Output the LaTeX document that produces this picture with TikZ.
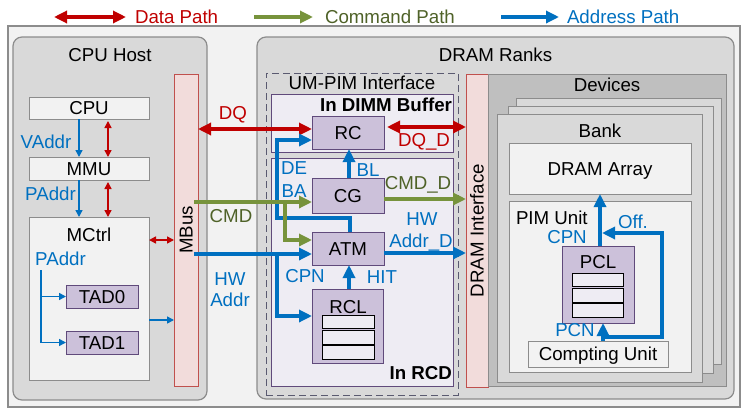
\documentclass[tikz,border=0pt]{standalone}
\usepackage{fontspec}
\setmainfont{Liberation Sans}
\usetikzlibrary{arrows.meta}
\definecolor{cred}{HTML}{C00000}
\definecolor{cgreen}{HTML}{77933C}
\definecolor{colive}{HTML}{4F6228}
\definecolor{cblue}{HTML}{0070C0}
\definecolor{bgfill}{HTML}{F2F2F2}
\definecolor{midgray}{HTML}{D9D9D9}
\definecolor{devgray}{HTML}{BFBFBF}
\definecolor{edgegray}{HTML}{8C8C8C}
\definecolor{pinkfill}{HTML}{F2DCDB}
\definecolor{pinkedge}{HTML}{C0504D}
\definecolor{lavfill}{HTML}{EEECF3}
\definecolor{compfill}{HTML}{CCC1DA}
\definecolor{purpedge}{HTML}{604A7B}
\definecolor{dashedge}{HTML}{5A5A70}
\begin{document}
\begin{tikzpicture}[x=1pt,y=-1pt,
 every node/.style={font=\fontsize{18.7}{21}\selectfont, inner sep=0pt, outer sep=0pt, text height=13.4pt, text depth=0pt},
 plainbox/.style={draw=edgegray, fill=bgfill, line width=1pt},
 grpbox/.style={draw=edgegray, fill=midgray, line width=1.2pt, rounded corners=9pt},
 busbox/.style={draw=pinkedge, fill=pinkfill, line width=1pt},
 bufbox/.style={draw=purpedge, fill=lavfill, line width=1pt},
 compbox/.style={draw=purpedge, fill=compfill, line width=1pt},
 rowbox/.style={draw=black, fill=lavfill, line width=1pt, minimum height=11},
 layerbox/.style={draw=edgegray, fill=midgray, line width=1pt},
 thk/.style={line width=3.2pt, >={Triangle[length=13pt,width=12pt]}},
 thn/.style={line width=1.5pt, >={Triangle[length=7pt,width=7pt]}},
 lblue/.style={text=cblue},
 lred/.style={text=cred},
 lolive/.style={text=colive},
 bt/.style={font=\fontsize{18.7}{21}\selectfont\bfseries},
]
\useasboundingbox (0,0) rectangle (751,418);
\fill[white] (0,0) rectangle (751,418);

% legend
\coordinate (lr1) at (54,17); \coordinate (lr2) at (126,17);
\coordinate (lg1) at (254,17); \coordinate (lg2) at (313,17);
\coordinate (lb1) at (501,17); \coordinate (lb2) at (559,17);
\draw[thk, cred, <->] (lr1) -- (lr2);
\draw[thk, cgreen, ->] (lg1) -- (lg2);
\draw[thk, cblue, ->] (lb1) -- (lb2);
\node[lred, anchor=west] (legd) at (135,17) {Data Path};
\node[lolive, anchor=west] (legc) at (325,17) {Command Path};
\node[lblue, anchor=west] (lega) at (567,17) {Address Path};

% containers
\node[draw=edgegray, fill=bgfill, line width=1.2pt, minimum width=732, minimum height=381] (outer) at (374,216.5) {};
\node[grpbox, minimum width=194, minimum height=363] (host) at (110,218.5) {};
\node[grpbox, minimum width=477, minimum height=362] (ranks) at (495.5,218) {};
\node (hostt) at (110,55) {CPU Host};
\node (rankst) at (495.5,55) {DRAM Ranks};

% CPU host
\node[plainbox, minimum width=120, minimum height=22] (cpu) at (89,108) {CPU};
\node[plainbox, minimum width=120, minimum height=23] (mmu) at (89,168.5) {MMU};
\node[plainbox, minimum width=120, minimum height=163] (mctrl) at (89,298.5) {};
\node (mctrlt) at (89,235) {MCtrl};
\node[compbox, minimum width=72, minimum height=23] (tad0) at (102,296.5) {TAD0};
\node[compbox, minimum width=72, minimum height=23] (tad1) at (102,342.5) {TAD1};
\node[busbox, minimum width=24, minimum height=312] (mbus) at (186,230) {};
\node[rotate=90] (mbust) at (186,230) {MBus};

% UM-PIM interface
\node[draw=dashedge, dash pattern=on 7pt off 4pt, line width=1pt, minimum width=192, minimum height=322] (umpim) at (362,234) {};
\node (umpimt) at (362,83) {UM-PIM Interface};
\node[bufbox, minimum width=182, minimum height=58] (dimm) at (362,123) {};
\node[bufbox, minimum width=182, minimum height=228] (rcd) at (362,272) {};
\node[bt, anchor=east] (dimmt) at (452,105) {In DIMM Buffer};
\node[bt, anchor=east] (rcdt) at (452,372.5) {In RCD};
\node[compbox, minimum width=72, minimum height=33] (rc) at (348,132.5) {RC};
\node[compbox, minimum width=72, minimum height=35] (cg) at (348,195.5) {CG};
\node[compbox, minimum width=72, minimum height=33] (atm) at (348,248.5) {ATM};
\node[compbox, minimum width=71, minimum height=74] (rcl) at (347.5,326) {};
\node (rclt) at (348,307) {RCL};
\node[rowbox, minimum width=52] (rclr1) at (348,322) {};
\node[rowbox, minimum width=52] (rclr2) at (348,337.5) {};
\node[rowbox, minimum width=52] (rclr3) at (348,352.5) {};

% DRAM interface
\node[busbox, minimum width=22, minimum height=313] (dramif) at (477,230.5) {};
\node[rotate=90] (dramift) at (477,230.5) {DRAM Interface};

% devices
\node[draw=edgegray, fill=devgray, line width=1pt, minimum width=238, minimum height=312] (devices) at (607,230) {};
\node (devicest) at (607,85) {Devices};
\node[layerbox, minimum width=205, minimum height=266] (layerA) at (618.5,231) {};
\node[layerbox, minimum width=205, minimum height=267] (layerB) at (610.5,239.5) {};
\node[layerbox, minimum width=205, minimum height=268] (bank) at (599.5,248) {};
\node (bankt) at (600,131) {Bank};
\node[plainbox, minimum width=182, minimum height=51] (array) at (600,168.5) {DRAM Array};
\node[plainbox, minimum width=182, minimum height=171] (pim) at (600,286.5) {};
\node[anchor=west] (pimt) at (516,217.5) {PIM Unit};
\node[compbox, minimum width=72, minimum height=77] (pcl) at (598,284.5) {};
\node (pclt) at (598,262) {PCL};
\node[rowbox, minimum width=51] (pclr1) at (597.5,280) {};
\node[rowbox, minimum width=51] (pclr2) at (597.5,295.5) {};
\node[rowbox, minimum width=51] (pclr3) at (597.5,310.5) {};
\node[plainbox, minimum width=140, minimum height=26] (cu) at (598,354) {Compting Unit};

% host connectors
\coordinate (xa) at (79,0); \coordinate (xd) at (108,0);
\draw[thn, cblue, ->] (xa |- cpu.south) -- (xa |- mmu.north);
\draw[thn, cred, <->, shorten <=2pt] (xd |- cpu.south) -- (xd |- mmu.north);
\draw[thn, cblue, ->] (xa |- mmu.south) -- (xa |- mctrl.north);
\draw[thn, cred, <->, shorten <=2pt] (xd |- mmu.south) -- (xd |- mctrl.north);
\coordinate (ymb1) at (0,240); \coordinate (ymb2) at (0,320);
\draw[thn, cred, <->] (mctrl.east |- ymb1) -- (mbus.west |- ymb1);
\draw[thn, cblue, ->] (mctrl.east |- ymb2) -- (mbus.west |- ymb2);
\coordinate (pb) at (41,270);
\draw[thn, cblue, ->] (pb) |- (tad1.west);
\draw[thn, cblue, ->] (pb |- tad0.west) -- (tad0.west);

% interface connectors
\coordinate (ydq) at (0,129); \coordinate (ydqd) at (0,127);
\draw[thk, cred, <->] (mbus.east |- ydq) -- (rc.west |- ydq);
\draw[thk, cred, <->, shorten <=3pt] (rc.east |- ydqd) -- (dramif.west |- ydqd);
\coordinate (xde) at (277,0); \coordinate (yde) at (0,218); \coordinate (yrc) at (0,140); \coordinate (xatm) at (350,0);
\draw[thk, cblue, ->] (xatm |- atm.north) |- (xde |- yde) |- (rc.west |- yrc);
\coordinate (xbl) at (349,0);
\draw[thk, cblue, ->] (xbl |- cg.north) -- (xbl |- rc.south);
\coordinate (ycmd) at (0,202); \coordinate (xcb) at (285,0); \coordinate (yatmg) at (0,240);
\draw[thk, cgreen, ->, shorten <=-4pt] (mbus.east |- ycmd) -- (cg.west |- ycmd);
\draw[thk, cgreen, ->] (xcb |- ycmd) |- (atm.west |- yatmg);
\coordinate (ycmdd) at (0,199);
\draw[thk, cgreen, ->] (cg.east |- ycmdd) -- (dramif.west |- ycmdd);
\coordinate (yhw) at (0,254); \coordinate (yrcl) at (0,316);
\draw[thk, cblue, ->, shorten <=-4pt] (mbus.east |- yhw) -- (atm.west |- yhw);
\draw[thk, cblue, ->] (xde |- yhw) |- (rcl.west |- yrcl);
\coordinate (yhwd) at (0,253);
\draw[thk, cblue, ->] (atm.east |- yhwd) -- (dramif.west |- yhwd);
\draw[thk, cblue, ->] (xbl |- rcl.north) -- (xbl |- atm.south);

% PIM connectors
\coordinate (xcpn) at (600,0); \coordinate (xpcn) at (603,0); \coordinate (xoff) at (662,0);
\coordinate (yoffb) at (0,337); \coordinate (yofft) at (0,233);
\draw[thk, cblue, ->] (xcpn |- pcl.north) -- (xcpn |- array.south);
\draw[thk, cblue, ->] (xpcn |- cu.north) -- (xpcn |- pcl.south);
\draw[thk, cblue, ->, shorten >=-1pt] (xpcn |- yoffb) -| (xoff |- yofft) -- (xpcn |- yofft);

% labels
\node[lblue] (lva) at (46,142) {VAddr};
\node[lblue] (lpa) at (50.5,194) {PAddr};
\node[lblue] (lpa2) at (60.5,259) {PAddr};
\node[lred] (ldq) at (233,113) {DQ};
\node[lolive] (lcmd) at (231,216) {CMD};
\node[lblue] (lhw) at (230,279) {HW};
\node[lblue] (laddr) at (230,300) {Addr};
\node[lblue] (lde) at (294,168) {DE};
\node[lblue] (lba) at (294,191) {BA};
\node[lblue] (lbl) at (368,170) {BL};
\node[lred] (ldqd) at (424,140) {DQ\_D};
\node[lolive] (lcmdd) at (418,183) {CMD\_D};
\node[lblue] (lhwd) at (422,219) {HW};
\node[lblue] (laddrd) at (421,241) {Addr\_D};
\node[lblue] (lcpn) at (305,276) {CPN};
\node[lblue] (lhit) at (382,277) {HIT};
\node[lblue] (lcpn2) at (567,237) {CPN};
\node[lblue] (loff) at (633,222) {Off.};
\node[lblue] (lpcn) at (575,330) {PCN};
\end{tikzpicture}
\end{document}
